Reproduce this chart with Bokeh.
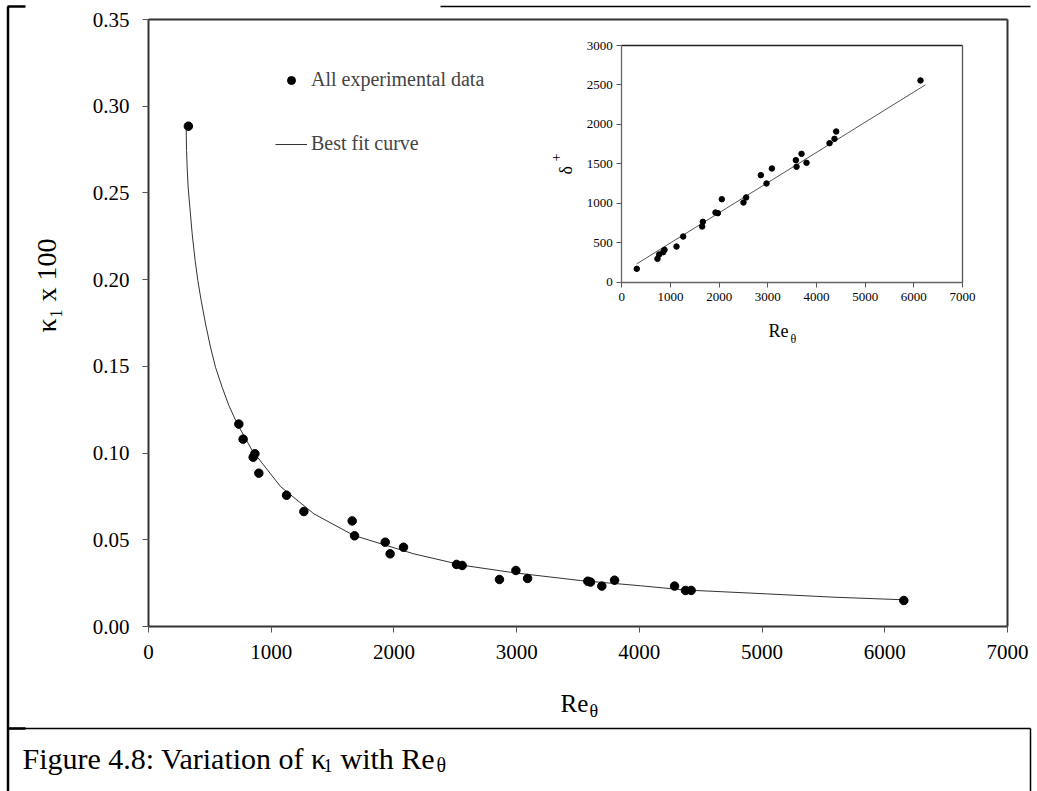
import math
from bokeh.plotting import figure
from bokeh.models import (Range1d, LinearAxis, FixedTicker, NumeralTickFormatter,
                          Label, PolyAnnotation, Legend, LegendItem)
from bokeh.embed import file_html
from bokeh.resources import INLINE

# ---------------- data ----------------
re_main = [325, 736, 771, 853, 867, 899, 1125, 1266, 1660, 1679, 1929, 1969, 2078,
           2510, 2556, 2860, 2994, 3089, 3580, 3602, 3694, 3798, 4287, 4376, 4422, 6155]
kappa = [0.2885, 0.1167, 0.108, 0.0976, 0.0996, 0.0884, 0.0757, 0.0663, 0.0609, 0.0523,
         0.0486, 0.0419, 0.0457, 0.0358, 0.0352, 0.0271, 0.0323, 0.0277, 0.0261, 0.0256,
         0.0233, 0.0267, 0.0233, 0.0208, 0.0208, 0.015]

curve_re = [307, 310, 315, 323, 337, 356, 380, 402, 429, 465, 505, 546, 600, 655, 723,
            845, 1076, 1347, 1673, 2162, 2570, 2977, 3520, 4009, 4362, 5042, 5585, 6155]
curve_kappa = [0.287, 0.2745, 0.2649, 0.2533, 0.2418, 0.2264, 0.211, 0.1995, 0.188,
               0.1745, 0.1611, 0.1495, 0.138, 0.1274, 0.1169, 0.1015, 0.0807, 0.065,
               0.0525, 0.0419, 0.0352, 0.031, 0.0265, 0.0235, 0.0211, 0.0188, 0.0169, 0.0154]

inset_re = [308, 733, 767, 850, 877, 1124, 1261, 1651, 1665, 1925, 1973, 2055, 2500,
            2555, 2857, 2973, 3083, 3576, 3590, 3693, 3795, 4268, 4370, 4405, 6137]
inset_delta = [170, 296, 351, 380, 410, 452, 579, 706, 765, 883, 875, 1052, 1010,
               1074, 1357, 1251, 1441, 1547, 1463, 1627, 1513, 1762, 1817, 1910, 2557]
inset_fit_re = [308, 6240]
inset_fit_delta = [233, 2502]

x_ticks = [0, 1000, 2000, 3000, 4000, 5000, 6000, 7000]
y_ticks = [0.0, 0.05, 0.10, 0.15, 0.20, 0.25, 0.30, 0.35]
inset_x_ticks = [0, 1000, 2000, 3000, 4000, 5000, 6000, 7000]
inset_y_ticks = [0, 500, 1000, 1500, 2000, 2500, 3000]

# ---------------- layout (pixels) ----------------
W, H = 1037, 791
FL, FR, FT, FB = 148, 1007, 19, 626          # main plot box on the page
XMAX, YMAX = 7000, 0.35
SERIF = "Liberation Serif"
sxm = (FR - FL) / XMAX
sym = (FB - FT) / YMAX


def dx(px):
    return (px - FL) / sxm


def dy(py):
    return (FB - py) / sym


# the frame covers the whole page; the plot box is drawn with fixed-location axes
p = figure(width=W, height=H,
           x_range=Range1d(0 - FL / sxm, XMAX + (W - FR) / sxm),
           y_range=Range1d(0 - (H - FB) / sym, YMAX + FT / sym),
           x_axis_location=None, y_axis_location=None,
           output_backend="svg", toolbar_location=None, min_border=0)
p.xgrid.visible = False
p.ygrid.visible = False
p.background_fill_color = "white"
p.border_fill_color = "white"
p.outline_line_color = None


def make_axis(loc, bounds, ticks, color, width, font_size, standoff, tick_out,
              xr="default", yr="default"):
    a = LinearAxis(x_range_name=xr, y_range_name=yr, fixed_location=loc,
                   bounds=bounds, ticker=FixedTicker(ticks=ticks))
    a.axis_line_color = color
    a.axis_line_width = width
    a.major_tick_line_color = "#555555"
    a.major_tick_out = tick_out
    a.major_tick_in = 0
    a.minor_tick_out = 0
    a.minor_tick_in = 0
    a.major_label_text_font = SERIF
    a.major_label_text_font_size = f"{font_size}px"
    a.major_label_text_color = "black"
    a.major_label_standoff = standoff
    return a


ay = make_axis(0, (0, YMAX), y_ticks, "#333333", 2, 21, 13, 6)
ay.formatter = NumeralTickFormatter(format="0.00")
p.add_layout(ay, "left")
p.add_layout(make_axis(0, (0, XMAX), x_ticks, "#333333", 2, 21, 12, 6), "below")
p.add_layout(make_axis(YMAX, (0, XMAX), [], "#333333", 2, 21, 0, 0), "above")
p.add_layout(make_axis(XMAX, (0, YMAX), [], "#333333", 2, 21, 0, 0), "right")

# ---------------- main data ----------------
r_fit = p.line(curve_re, curve_kappa, line_color="#333333", line_width=1)
r_pts = p.scatter(re_main, kappa, size=8.5, color="black")

legend = Legend(items=[LegendItem(label="All experimental data", renderers=[r_pts]),
                       LegendItem(label="Best fit curve", renderers=[r_fit])],
                location=(275, 636), orientation="vertical",
                glyph_width=32, glyph_height=20, label_height=20, label_standoff=4,
                spacing=41, padding=0, margin=0,
                border_line_alpha=0, background_fill_alpha=0,
                label_text_font=SERIF, label_text_font_size="20px")
p.add_layout(legend)

# ---------------- inset (own scales via extra ranges) ----------------
IXL, IXR = 621.3, 962.0   # pixel of inset x = 0 and 7000
IYB, IYT = 281.7, 45.0    # pixel of inset y = 0 and 3000
IXMAX, IYMAX = 7000, 3000
sx = (IXR - IXL) / IXMAX
sy = (IYB - IYT) / IYMAX
p.extra_x_ranges = {"ix": Range1d(0 - IXL / sx, IXMAX + (W - IXR) / sx)}
p.extra_y_ranges = {"iy": Range1d(0 - (H - IYB) / sy, IYMAX + IYT / sy)}

p.add_layout(make_axis(0, (0, IYMAX), inset_y_ticks, "#666666", 1.3, 13, 4, 5, "ix", "iy"), "left")
p.add_layout(make_axis(0, (0, IXMAX), inset_x_ticks, "#666666", 1.3, 13, 6, 5, "ix", "iy"), "below")
p.add_layout(make_axis(IYMAX, (0, IXMAX), [], "#222222", 1.3, 13, 0, 0, "ix", "iy"), "above")
p.add_layout(make_axis(IXMAX, (0, IYMAX), [], "#555555", 1.3, 13, 0, 0, "ix", "iy"), "right")

p.line(inset_fit_re, inset_fit_delta, line_color="#555555", line_width=1,
       x_range_name="ix", y_range_name="iy")
p.scatter(inset_re, inset_delta, size=5.5, color="black",
          x_range_name="ix", y_range_name="iy")


# ---------------- texts ----------------
def lab(px, py, text, size, angle=0.0, align="left", baseline="alphabetic"):
    p.add_layout(Label(x=dx(px), y=dy(py), text=text, angle=angle,
                       text_font=SERIF, text_font_size=f"{size}px", text_color="black",
                       text_align=align, text_baseline=baseline))


# main axis titles
lab(46, 285, "\u03ba\u2081 x 100", 28, angle=math.pi / 2, align="center", baseline="middle")
lab(560, 703, "Re", 25)
lab(589, 710, "\u03b8", 18)
# inset axis titles
lab(768, 330, "Re", 18)
lab(790, 338, "\u03b8", 12)
lab(565, 174, "\u03b4", 18, angle=math.pi / 2)
lab(555, 161, "+", 14, angle=math.pi / 2)
# caption
lab(22, 758, "Figure 4.8: Variation of \u03ba", 30)
lab(323, 765, "1", 18)
lab(340, 758, "with Re", 30)
lab(436, 764, "\u03b8", 20)


# ---------------- page frame lines ----------------
def hline(x0, x1, py, w):
    p.add_layout(PolyAnnotation(xs=[dx(x0), dx(x1)], ys=[dy(py), dy(py)],
                                line_color="black", line_alpha=1.0, line_width=w,
                                fill_alpha=0))


def vline(px, y0, y1, w):
    p.add_layout(PolyAnnotation(xs=[dx(px), dx(px)], ys=[dy(y0), dy(y1)],
                                line_color="black", line_alpha=1.0, line_width=w,
                                fill_alpha=0))


vline(7.5, 6, 791, 2.5)
hline(440, 1030, 6, 1.3)
hline(7, 25, 6, 2.5)
hline(7, 1030, 728, 1.5)
hline(7, 25, 728, 2.5)
vline(1030, 728, 791, 1.5)

open("out.html", "w").write(file_html(p, INLINE))
